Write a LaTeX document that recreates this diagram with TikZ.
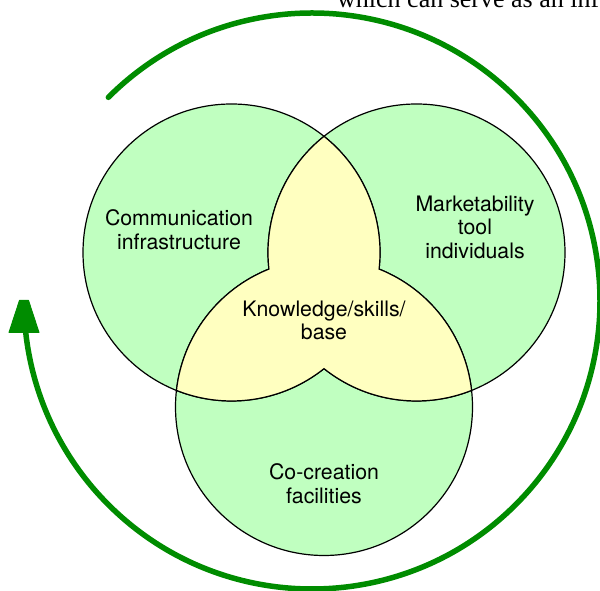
\documentclass[tikz,border=0pt]{standalone}
\usepackage{fontspec}
\setmainfont{TeX Gyre Heros}
\newfontfamily\timesfont{Liberation Serif}
\definecolor{vgreen}{RGB}{192,255,192}
\definecolor{vyellow}{RGB}{255,255,192}
\definecolor{arcgreen}{RGB}{0,140,0}
\begin{document}
\begin{tikzpicture}[x=1pt,y=1pt,
  setfill/.style={fill=vgreen},
  setline/.style={draw=black,line width=1.2pt},
  lbl/.style={align=center,font=\fontsize{21.3}{23.5}\selectfont,anchor=base,inner sep=0pt},
  cycarrow/.style={draw=arcgreen,line width=5.5pt,line cap=round},
  cychead/.style={fill=arcgreen,draw=arcgreen,line width=1pt,line join=round}
]
\useasboundingbox (0,0) rectangle (600,591);
\coordinate (L) at (231.5,338.5);
\coordinate (R) at (416.5,338.5);
\coordinate (B) at (324,184);
\coordinate (O) at (312,290);
% green circles
\fill[setfill] (L) circle[radius=148.5];
\fill[setfill] (R) circle[radius=148.5];
\fill[setfill] (B) circle[radius=148.5];
\draw[setline] (L) circle[radius=148.5];
\draw[setline] (R) circle[radius=148.5];
\draw[setline] (B) circle[radius=148.5];
% yellow overlap region
\filldraw[fill=vyellow,setline] (324,454.67)
  arc[start angle=128.53,end angle=186.41,radius=148.5]
  arc[start angle=111.77,end angle=173.59,radius=148.5]
  arc[start angle=248.23,end angle=308.53,radius=148.5]
  arc[start angle=231.47,end angle=291.77,radius=148.5]
  arc[start angle=6.41,end angle=68.23,radius=148.5]
  arc[start angle=-6.41,end angle=51.47,radius=148.5] -- cycle;
% cycle arrow
\draw[cycarrow] (O) ++(135:288) arc[start angle=135,end angle=-175,radius=288];
\filldraw[cychead] (9,258.5) -- (39,258.5) -- (28.5,290.5) -- (19.5,290.5) -- cycle;
% labels (anchor = baseline of last line)
\node[lbl] (comm) at (179,341.5) {Communication\\infrastructure};
\node[lbl] (mark) at (475,332.7) {Marketability\\tool\\individuals};
\node[lbl] (know) at (324,251) {Knowledge/skills/\\base};
\node[lbl] (cocr) at (324,87.7) {Co-creation\\facilities};
\node[font=\timesfont\fontsize{26}{30}\selectfont,anchor=base west,inner sep=0pt] (toptext) at (337,583) {which can serve as an inf};
\end{tikzpicture}
\end{document}
